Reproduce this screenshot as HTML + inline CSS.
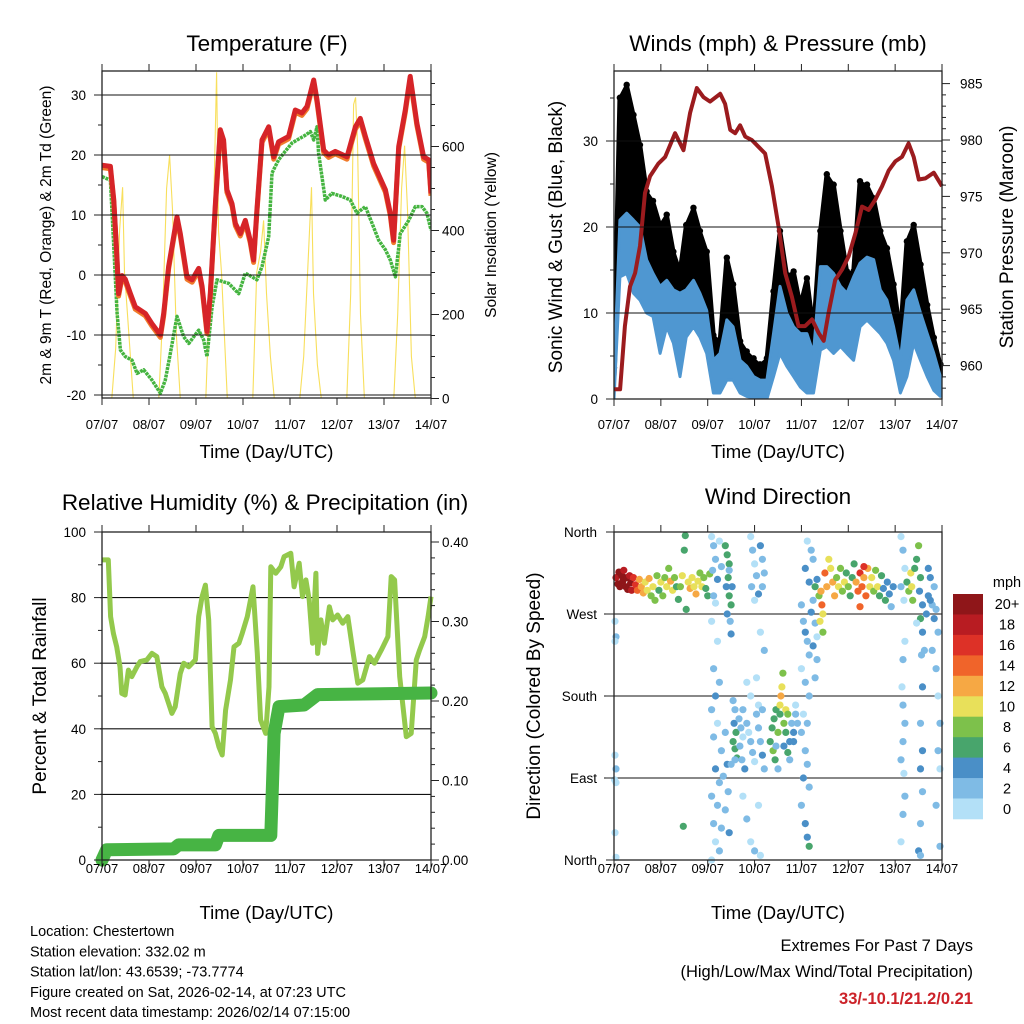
<!DOCTYPE html>
<html><head><meta charset="utf-8">
<style>
html,body{margin:0;padding:0;background:#fff;}
svg{display:block;font-family:"Liberation Sans",Arial,sans-serif;}
</style></head>
<body>
<svg id="fig" width="1024" height="1024" viewBox="0 0 1024 1024" xmlns="http://www.w3.org/2000/svg">
<g id="layer"></g>
</svg>
<script>
// ---------- Temperature panel data (hours since 07/07 00Z) ----------
const tempHours = [0,4.3,6.0,7.7,8.5,10.2,11.9,14.5,17.0,22.1,25.5,29.8,31.5,34.0,38.3,40.0,43.4,46.0,49.4,51.1,53.6,55.3,57.9,60.4,62.1,63.8,66.4,68.1,70.6,73.2,75.7,77.4,79.1,81.7,85.1,87.7,90.2,95.3,98.7,102.1,104.7,108.1,109.8,113.2,115.7,119.1,125.1,129.4,131.9,134.5,138.7,144.7,147.2,148.9,151.5,154.9,157.4,160.8,164.2,166.8,168.0];
const tempValues = [18.3,18.1,12.5,2.5,-3.1,-0.1,-0.7,-3.1,-5.3,-6.4,-8.1,-10.0,-6.4,1.4,9.7,6.9,-0.3,-0.8,1.1,-1.9,-9.4,-3.1,11.9,24.2,22.5,14.2,11.9,8.6,6.9,9.1,5.8,2.5,10.8,22.5,24.7,19.7,22.2,23.1,27.5,27.0,28.1,32.5,29.2,20.8,20.0,20.6,19.7,24.7,26.1,23.1,18.6,14.2,10.3,5.8,21.4,27.5,33.1,25.3,19.7,19.2,13.6];
const dewHours = [0,4.3,6.0,7.7,9.4,11.9,15.3,17.9,21.3,25.5,29.8,32.3,34.9,38.3,41.7,44.3,49.4,51.9,53.6,56.2,58.7,64.7,69.8,73.2,76.6,79.1,81.7,85.1,86.8,90.2,92.8,97.0,103.8,106.4,108.1,109.8,110.6,114.0,117.4,122.5,126.8,130.2,134.5,137.9,141.3,144.7,147.2,149.8,152.3,156.6,160.0,163.4,165.9,168.0];
const dewValues = [16.4,15.8,4.7,-6.4,-12.5,-13.6,-14.2,-16.4,-15.8,-17.5,-19.7,-17.5,-13.1,-6.9,-10.3,-11.4,-9.2,-10.8,-13.6,-5.3,-0.8,-1.4,-3.1,0.3,-0.3,-0.8,1.4,6.4,17.0,19.2,20.3,22.0,23.3,23.9,22.5,24.7,20.3,12.5,13.6,13.1,12.5,10.3,11.4,8.6,5.8,4.2,2.5,-0.3,6.9,9.1,11.4,11.4,10.3,7.5];
const solarHours = [5,7,9,10.5,11.5,13,16, 29,31,33,34.5,36,38,40, 53,55,57,58.5,59.5,61,64, 77,79,81,82.5,84,86,88, 101,103,105,107,108,110,112, 125,127,128.5,129.5,130.5,132,134, 149,151,153,154.5,156,158,160];
const solarValues = [0,120,400,503,300,200,0, 0,200,500,579,450,150,0, 0,250,450,777,400,300,0, 0,300,350,424,250,100,0, 0,100,300,503,250,80,0, 0,250,700,717,600,200,0, 0,200,500,602,450,100,0];
const tempTicks = [-20,-10,0,10,20,30];
const solarTicks = [0,200,400,600];
const dayLabels = ["07/07","08/07","09/07","10/07","11/07","12/07","13/07","14/07"];

// ---------- Wind panel data ----------
const windHours = [0,3,6.5,10,13.3,16.7,20,23.6,27,30.4,33.8,37,40.7,44,47.5,50.9,54.3,57.8,61,64.6,68,71.5,74.8,78.3,81.7,85,88.5,92,95.4,98.8,102.2,105.7,109,112.5,116,119.3,122.7,126,129.6,133,136.4,139.8,143.2,146.7,150,153.5,157,160.4,163.8,167.2];
const gustMax = [3.4,34.8,36.3,32.8,29.3,23.9,22.8,20.0,21.2,16.9,14.6,20.0,22.0,19.3,16.9,7.2,6.5,16.2,13.1,6.5,5.3,4.5,3.8,4.5,12.3,19.3,14.2,14.6,10.7,13.8,7.6,19.3,25.9,24.7,19.3,14.6,14.6,25.1,24.7,23.1,19.3,17.3,13.1,7.2,18.1,20.0,15.4,10.7,6.9,3.8];
const sustMax = [2.6,20.8,21.6,20.8,20.0,16.2,14.6,13.1,13.8,12.7,12.3,12.7,13.8,12.3,10.3,4.5,5.3,9.2,8.4,4.5,3.8,2.6,2.2,2.2,7.6,13.1,10.0,8.4,7.6,7.6,5.3,15.4,15.4,14.6,13.1,12.3,14.2,15.8,16.5,16.2,12.7,11.5,8.4,4.5,11.5,12.7,10.0,7.6,5.3,2.6];
const sustMin = [0,14.2,14.6,12.3,11.5,10.0,9.6,5.3,8.4,6.5,2.6,7.2,8.4,7.2,5.3,0.7,0.7,2.2,2.2,0.7,0.3,0.1,0,0,2.6,5.3,3.8,2.6,1.4,0.7,0.7,5.7,6.1,5.3,6.1,5.3,4.5,8.4,9.2,8.4,7.6,6.5,4.5,0.7,2.6,6.5,4.5,2.6,1.0,0.3];
const presHours = [0,3.1,5.6,8.2,10.8,13.3,15.9,18.5,22.7,26.2,31.3,35.6,39.0,42.4,45.8,49.2,54.4,56.9,59.5,62.1,64.6,67.2,70.6,74.0,77.4,80.9,84.3,87.7,91.1,94.5,97.9,101.4,104.8,107.4,109.9,113.3,116.8,120.2,123.6,127.0,130.4,133.8,137.3,140.7,144.1,147.5,150.9,153.5,156.1,159.5,163.8,168.0];
const presValues = [957.9,957.9,963.5,967.0,968.2,970.6,975.3,976.8,977.9,978.5,980.6,979.1,982.4,984.6,983.8,983.4,984.1,983.2,980.9,980.6,981.3,980.3,980.0,979.4,978.8,975.9,972.3,968.2,966.1,963.5,963.5,964.1,962.9,962.2,964.7,967.6,968.5,969.7,971.7,974.1,973.8,974.7,975.9,977.3,978.1,978.5,979.7,978.5,976.5,976.6,977.1,975.9];
const windTicks = [0,10,20,30];
const presTicks = [960,965,970,975,980,985];

// ---------- RH / precip data ----------
const rhHours = [0,3.2,4.4,5.8,7.5,9.2,10.1,11.8,13.5,15.2,17.8,19.5,22.9,25.5,28.0,30.6,32.3,35.7,37.4,40.0,41.7,44.3,47.7,49.4,51.1,52.8,54.5,56.2,57.9,59.7,61.4,63.1,65.6,67.4,69.9,71.6,74.2,77.1,79.3,81.0,83.6,85.3,86.2,88.7,91.3,93.0,96.4,98.1,100.7,102.4,104.1,105.8,107.5,109.2,110.1,111.8,113.5,116.1,117.8,120.3,122.9,125.5,128.0,130.6,133.2,136.6,139.1,142.6,146.0,147.7,149.4,152.0,155.4,157.9,160.5,162.2,164.8,166.5,168.0];
const rhValues = [91.5,91.5,74.2,69.1,65.0,58.9,50.8,50.3,57.9,55.9,58.9,60.5,61.0,63.0,62.0,52.8,50.8,44.7,46.7,56.9,60.0,58.9,61.0,74.2,80.3,83.8,73.2,40.6,38.6,34.5,32.0,45.7,54.9,65.0,66.1,69.1,74.2,83.3,63.0,42.7,38.6,52.8,89.4,87.4,89.4,92.5,93.5,83.3,90.5,80.3,85.4,79.3,66.1,87.4,63.0,73.2,66.1,77.2,73.2,74.7,72.2,74.2,64.0,53.9,54.9,62.0,60.0,64.0,68.1,86.4,85.4,55.9,37.6,38.6,61.0,64.0,68.1,74.2,80.3];
const rainHours = [0,2.4,36.6,39.1,57.9,59.7,86.2,87.0,87.9,90.4,103.2,110.1,168.0];
const rainValues = [0,0.013,0.014,0.019,0.019,0.031,0.031,0.092,0.159,0.193,0.195,0.208,0.210];
const rhTicks = [0,20,40,60,80,100];
const rainTicks = [0.00,0.10,0.20,0.30,0.40];

// ---------- Wind direction data ----------
const dirHours = [1,2,2.5,3,4,4.5,5,6,6.5,7,8,8.5,9,10,11,12,13,14,15,16,17,18,19,20,21,22,23,24,25,26,27,28,29,30,31,32,33,34,35,36,36.5,37,38,39,40,41,42,43,44,45,46,47,48,49,35.5,
0.5,1,0.5,0.5,1,1,0.5,1,0.3,
50,51,52,50.5,53,51,52,54,55,50,53,51,54,52,50,53,51,55,52,54,50,53,51,55,52,54,50,
57,58,59,58.5,57.5,59,60,58,59.5,60,59,60.5,57,58,56,58.5,57,59,
61,62,61.5,62.5,61,62,63,64,65,66,64.5,65.5,67,66,68,69,70,71,72,73,74,75,76,77,74,70,68,76,62,60,66,68,70,72,75,74,
70,71,72,73,70.5,74,75,76,77,72,76,75,77,73,
80,81,82,81.5,83,82.5,84,85,85.5,86,86.5,85,87,88,89,88,87,90,89,91,92,93,94,90,84,83,93,92,
96,97,98,99,100,96,98,100,97,99,96,98,99,97,100,96,98,99,100,101,102,103,104,102,104,103,
103,104,105,106,106.5,107,105.5,107,108,109,110,111,112,113,114,115,116,117,118,119,120,121,122,123,124,125,126,127,128,129,130,131,132,133,134,135,136,137,138,139,140,141,142,143,126,128,98,100,102,99,101,
147,148,149,147,148.5,149,148,147.5,148,149,148,147,148.5,149,148,147,150,151,152,153,152.5,154,155,156,157,156.5,158,157,158,157.5,158,157,158,157,158,157,156,157,155,159,160,161,162,163,164,165,164,166,163,165,166,167,166,167,165,167,161,162];
const dirValues = [310,303,316,300,312,306,318,300,310,297,312,304,296,310,302,296,308,300,293,305,296,309,290,300,285,312,296,305,290,310,300,320,306,296,310,300,286,300,312,340,356,275,305,298,310,300,292,306,315,300,310,298,290,314,37,
262,245,240,115,100,85,30,3,88,
355,345,330,318,308,290,282,350,322,262,240,210,195,180,165,150,135,120,100,85,70,60,40,35,20,10,0,
345,335,325,310,300,290,280,270,262,248,318,300,140,105,92,75,55,30,
175,165,150,140,130,122,112,155,145,135,125,110,100,165,150,140,130,118,108,160,145,130,115,100,170,180,195,165,110,105,70,45,20,10,5,60,
355,340,325,312,300,292,345,330,315,285,300,250,230,200,
130,145,155,120,165,110,140,170,180,190,205,160,150,165,160,140,125,130,118,150,140,160,150,110,100,125,170,130,
280,262,250,240,225,210,195,180,160,150,140,120,105,90,80,60,40,25,15,272,285,260,245,235,220,200,
300,308,290,295,280,270,262,250,315,300,330,320,305,290,310,300,320,295,305,315,300,290,310,325,305,295,315,300,310,290,320,300,310,295,318,300,290,312,298,285,305,292,278,300,278,322,320,305,330,350,340,
355,340,320,300,285,240,220,190,170,150,130,110,95,70,50,20,305,295,315,285,300,320,330,345,310,295,280,265,250,225,190,150,120,100,75,40,10,5,260,230,270,290,310,280,265,275,300,250,230,210,180,150,120,100,60,15,320,285];
const dirSpeeds = [19,21,20,22,21,20,19,21,22,20,19,21,18,17,16,14,13,12,13,11,10,12,8,10,9,8,7,10,9,8,11,9,12,10,8,7,6,9,10,7,7,6,11,12,10,11,13,10,9,10,8,6,6,8,7,
1,2,1,1,2,1,1,1,0,
1,2,3,2,4,2,1,1,3,0,1,3,2,4,2,1,2,3,4,3,2,3,2,3,1,2,1,
6,7,6,7,5,6,7,4,3,4,3,4,3,4,3,2,3,4,
3,2,4,7,6,7,6,2,3,1,2,3,4,2,3,1,2,3,1,2,3,2,4,3,1,1,0,2,2,3,1,2,1,2,1,1,
1,2,1,3,2,4,4,3,2,1,2,1,2,1,
7,6,7,8,6,7,8,11,13,10,8,7,9,10,9,6,4,5,6,3,4,3,2,3,3,2,1,5,
3,2,4,2,3,1,2,3,1,2,3,2,3,4,2,3,4,5,6,4,2,3,1,4,3,2,
6,5,8,12,14,11,10,8,15,12,10,11,13,12,9,10,8,9,10,7,8,6,7,7,12,14,16,15,13,14,12,11,10,9,8,10,7,6,5,6,4,5,3,4,14,17,4,5,3,1,2,
1,2,1,3,1,1,2,1,3,2,3,2,1,2,3,1,7,9,11,8,10,7,6,8,6,5,4,7,4,3,4,3,4,4,3,2,4,3,1,2,4,5,4,3,4,3,2,2,2,2,1,2,3,1,2,2,4,5];
const dirTickLabels = ["North","East","South","West","North"];
const speedBins = ["0","2","4","6","8","10","12","14","16","18","20+"];
const speedColors = ["#b3e0f7","#7fbbe5","#4a8fc7","#48a56c","#7dc14b","#e8e05a","#f6a844","#f0642a","#dd3127","#b81c22","#8f1619"];

// ---------- drawing helpers ----------
const NS = "http://www.w3.org/2000/svg";
const root = document.getElementById("layer");
function mk(tag, attrs, parent) {
  const el = document.createElementNS(NS, tag);
  for (const k in attrs) el.setAttribute(k, attrs[k]);
  (parent || root).appendChild(el);
  return el;
}
function txt(s, x, y, size, anchor, parent, extra) {
  const t = mk("text", Object.assign({x: x, y: y, "font-size": size, "text-anchor": anchor || "middle", fill: "#000"}, extra || {}), parent);
  t.textContent = s;
  return t;
}
function pathOf(xs, ys, fx, fy) {
  let d = "";
  for (let i = 0; i < xs.length; i++) d += (i ? "L" : "M") + fx(xs[i]).toFixed(1) + "," + fy(ys[i]).toFixed(1);
  return d;
}
function panelFrame(g, x0, y0, x1, y1) {
  const f = mk("rect", {x: x0, y: y0, width: x1 - x0, height: y1 - y0, fill: "none", stroke: "#222", "stroke-width": 1.3}, g);
  
  
}
function dayAxis(g, x0, x1, y0, y1, labelY, titleY) {
  const gx = mk("g", {}, g);
  
  
  for (let i = 0; i < dayLabels.length; i++) {
    const x = x0 + i * (x1 - x0) / 7;
    mk("line", {x1: x, x2: x, y1: y0 - 7, y2: y0, stroke: "#222", "stroke-width": 1}, gx);
    mk("line", {x1: x, x2: x, y1: y1, y2: y1 + 7, stroke: "#222", "stroke-width": 1}, gx);
    const t = txt(dayLabels[i], x, labelY, 13, "middle", gx);
    
    
  }
  const tt = txt("Time (Day/UTC)", (x0 + x1) / 2, titleY, 18.5, "middle", gx);
  
  
}
function hGrid(g, x0, x1, y) {
  mk("line", {x1: x0 - 2, x2: x1, y1: y, y2: y, stroke: "#111", "stroke-width": 1.1}, g);
}

// ================= Panel 1: Temperature =================
(function(){
  const X0 = 102, X1 = 431, Y0 = 71, Y1 = 398;
  const fx = h => X0 + h * (X1 - X0) / 168;
  const fy = t => 275 - 6 * t;
  const fs = w => 398.5 - 0.42 * w;
  const g = mk("g", {});
  
  
  const clip = mk("clipPath", {id: "c1"}, g);
  mk("rect", {x: X0, y: Y0, width: X1 - X0, height: Y1 - Y0}, clip);
  const data = mk("g", {"clip-path": "url(#c1)"}, g);
  const sol = mk("path", {d: pathOf(solarHours, solarValues, fx, fs), fill: "none", stroke: "#f7dc4a", "stroke-width": 1.1, opacity: 0.9}, data);
  
  
  tempTicks.forEach(t => hGrid(g, X0, X1, fy(t)));
  const dew = mk("path", {d: pathOf(dewHours, dewValues, fx, fy), fill: "none", stroke: "#45b440", "stroke-width": 3.5, "stroke-dasharray": "3 0.8", "stroke-linejoin": "round"}, data);
  
  
  const o = mk("path", {d: pathOf(tempHours, tempValues.map(v => v - 0.4), fx, fy), fill: "none", stroke: "#f07a2a", "stroke-width": 5, "stroke-linejoin": "round"}, data);
  
  
  const r = mk("path", {d: pathOf(tempHours, tempValues, fx, fy), fill: "none", stroke: "#d62428", "stroke-width": 5, "stroke-linejoin": "round"}, data);
  
  
  panelFrame(g, X0, Y0, X1, Y1);
  for (let t = -20; t <= 30; t += 5) {
    const major = t % 10 === 0;
    mk("line", {x1: X0 - (major ? 8 : 4), x2: X0, y1: fy(t), y2: fy(t), stroke: "#222"}, g);
  }
  tempTicks.forEach(t => {
    const l = txt(String(t), 86, fy(t) + 5, 13.5, "end", g);
    
    
  });
  for (let w = 0; w <= 750; w += 50) {
    const major = w % 200 === 0;
    mk("line", {x1: X1, x2: X1 + (major ? 8 : 4), y1: fs(w), y2: fs(w), stroke: "#222"}, g);
  }
  solarTicks.forEach(w => {
    const l = txt(String(w), 442, fs(w) + 5, 13.5, "start", g);
    
    
  });
  dayAxis(g, X0, X1, Y0, Y1, 429, 458);
  const t1 = txt("Temperature (F)", 267, 51, 22.5, "middle", g);
  
  
  const yl = txt("2m & 9m T (Red, Orange) & 2m Td (Green)", 0, 0, 15.5, "middle", g, {transform: "translate(51,235) rotate(-90)"});
  
  
  const yr = txt("Solar Insolation (Yellow)", 0, 0, 15.5, "middle", g, {transform: "translate(496,235) rotate(-90)"});
  
  
})();

// ================= Panel 2: Winds =================
(function(){
  const X0 = 614, X1 = 942, Y0 = 71, Y1 = 399;
  const fx = h => X0 + h * (X1 - X0) / 168;
  const fy = m => 399 - 8.6 * m;
  const fp = p => 140 + (980 - p) * 11.28;
  const g = mk("g", {});
  
  
  const clip = mk("clipPath", {id: "c2"}, g);
  mk("rect", {x: X0, y: Y0 - 5, width: X1 - X0 + 4, height: Y1 - Y0 + 5}, clip);
  const data = mk("g", {"clip-path": "url(#c2)"}, g);
  windTicks.slice(1).forEach(m => hGrid(g, X0, X1, fy(m)));
  // gust envelope (black), from gust max down to sustained max
  let d = "";
  for (let i = 0; i < windHours.length; i++) d += (i ? "L" : "M") + fx(windHours[i]).toFixed(1) + "," + fy(gustMax[i]).toFixed(1);
  for (let i = windHours.length - 1; i >= 0; i--) d += "L" + fx(windHours[i]).toFixed(1) + "," + fy(sustMax[i]).toFixed(1);
  const gp = mk("path", {d: d + "Z", fill: "#000", stroke: "#000", "stroke-width": 5, "stroke-linejoin": "round"}, data);
  
  
  for (let i = 0; i < windHours.length; i++) {
    const c = mk("circle", {cx: fx(windHours[i]), cy: fy(gustMax[i]) - 2, r: 3.2, fill: "#000"}, data);
    
    
  }
  // sustained band
  d = "";
  for (let i = 0; i < windHours.length; i++) d += (i ? "L" : "M") + fx(windHours[i]).toFixed(1) + "," + fy(sustMax[i]).toFixed(1);
  for (let i = windHours.length - 1; i >= 0; i--) d += "L" + fx(windHours[i]).toFixed(1) + "," + fy(sustMin[i]).toFixed(1);
  const sp = mk("path", {d: d + "Z", fill: "#4f97d1", stroke: "#4f97d1", "stroke-width": 3, "stroke-linejoin": "round"}, data);
  
  
  const pl = mk("path", {d: pathOf(presHours, presValues, fx, fp), fill: "none", stroke: "#9b1b1e", "stroke-width": 4, "stroke-linejoin": "round"}, data);
  
  
  panelFrame(g, X0, Y0, X1, Y1);
  for (let m = 0; m <= 35; m += 5) {
    const major = m % 10 === 0;
    mk("line", {x1: X0 - (major ? 8 : 4), x2: X0, y1: fy(m), y2: fy(m), stroke: "#222"}, g);
  }
  windTicks.forEach(m => {
    const l = txt(String(m), 598, fy(m) + 5, 13.5, "end", g);
    
    
  });
  for (let p = 958; p <= 985; p++) {
    const major = p % 5 === 0;
    mk("line", {x1: X1, x2: X1 + (major ? 8 : 4), y1: fp(p), y2: fp(p), stroke: "#222"}, g);
  }
  presTicks.forEach(p => {
    const l = txt(String(p), 960, fp(p) + 5, 13.5, "start", g);
    
    
  });
  dayAxis(g, X0, X1, Y0, Y1, 429, 458);
  const t = txt("Winds (mph) & Pressure (mb)", 778, 51, 22.5, "middle", g);
  
  
  const yl = txt("Sonic Wind & Gust (Blue, Black)", 0, 0, 19, "middle", g, {transform: "translate(562,237) rotate(-90)"});
  
  
  const yr = txt("Station Pressure (Maroon)", 0, 0, 19, "middle", g, {transform: "translate(1013,237) rotate(-90)"});
  
  
})();

// ================= Panel 3: RH & precip =================
(function(){
  const X0 = 102, X1 = 431, Y0 = 532, Y1 = 860;
  const fx = h => X0 + h * (X1 - X0) / 168;
  const fy = r => 860 - 3.28 * r;
  const fr = p => 860 - 795 * p;
  const g = mk("g", {});
  
  
  [20,40,60,80].forEach(r => hGrid(g, X0, X1, fy(r)));
  const rh = mk("path", {d: pathOf(rhHours, rhValues, fx, fy), fill: "none", stroke: "#93c94c", "stroke-width": 5, "stroke-linejoin": "round"}, g);
  
  
  const pr = mk("path", {d: pathOf(rainHours, rainValues, fx, fr), fill: "none", stroke: "#47b444", "stroke-width": 13, "stroke-linejoin": "round", "stroke-linecap": "round"}, g);
  
  
  panelFrame(g, X0, Y0, X1, Y1);
  for (let r = 0; r <= 100; r += 10) {
    const major = r % 20 === 0;
    mk("line", {x1: X0 - (major ? 8 : 4), x2: X0, y1: fy(r), y2: fy(r), stroke: "#222"}, g);
  }
  rhTicks.forEach(r => {
    const l = txt(String(r), 86, fy(r) + 5, 13.5, "end", g);
    
    
  });
  for (let p = 0; p <= 0.41; p += 0.02) {
    const major = Math.abs(p * 10 - Math.round(p * 10)) < 0.001;
    mk("line", {x1: X1, x2: X1 + (major ? 8 : 4), y1: fr(p), y2: fr(p), stroke: "#222"}, g);
  }
  rainTicks.forEach(p => {
    const l = txt(p.toFixed(2), 442, fr(p) + 5, 13.5, "start", g);
    
    
  });
  dayAxis(g, X0, X1, Y0, Y1, 873, 919);
  const t = txt("Relative Humidity (%) & Precipitation (in)", 265, 510, 22.5, "middle", g);
  
  
  const yl = txt("Percent & Total Rainfall", 0, 0, 19, "middle", g, {transform: "translate(46,696) rotate(-90)"});
  
  
})();

// ================= Panel 4: Wind direction =================
(function(){
  const X0 = 614, X1 = 942, Y0 = 532, Y1 = 860;
  const fx = h => X0 + h * (X1 - X0) / 168;
  const fy = d => 860 - d * 328 / 360;
  const g = mk("g", {});
  
  
  [90,180,270].forEach(d => hGrid(g, X0 - 8, X1, fy(d)));
  const pts = mk("g", {}, g);
  
  
  for (let i = 0; i < dirHours.length; i++) {
    const bin = Math.min(10, Math.max(0, Math.floor(dirSpeeds[i] / 2)));
    const c = mk("circle", {cx: fx(dirHours[i]).toFixed(1), cy: fy(dirValues[i]).toFixed(1), r: 3.6, fill: speedColors[bin]}, pts);
    
    
  }
  panelFrame(g, X0, Y0, X1, Y1);
  dirTickLabels.forEach((s, i) => {
    const d = i * 90;
    mk("line", {x1: X0 - 8, x2: X0, y1: fy(d), y2: fy(d), stroke: "#222"}, g);
    const l = txt(s, 597, fy(d) + 5, 13.5, "end", g);
    
    
  });
  dayAxis(g, X0, X1, Y0, Y1, 873, 919);
  const t = txt("Wind Direction", 778, 504, 22.5, "middle", g);
  
  
  const yl = txt("Direction (Colored By Speed)", 0, 0, 19, "middle", g, {transform: "translate(540,696) rotate(-90)"});
  
  
  const cb = mk("g", {}, g);
  
  
  const bh = 225 / speedBins.length;
  for (let k = 0; k < speedBins.length; k++) {
    const idx = speedBins.length - 1 - k;
    const y = 594 + k * bh;
    const r = mk("rect", {x: 953, y: y.toFixed(1), width: 30, height: (bh + 0.3).toFixed(1), fill: speedColors[idx]}, cb);
    
    
    const l = txt(speedBins[idx], 1007, y + bh / 2 + 5, 14.5, "middle", cb);
    
    
  }
  const u = txt("mph", 1007, 587, 14.5, "middle", cb);
  
  
})();

// ================= Footer text =================
(function(){
  const g = mk("g", {});
  
  
  const lines = ["Location: Chestertown","Station elevation: 332.02 m","Station lat/lon: 43.6539; -73.7774","Figure created on Sat, 2026-02-14, at 07:23 UTC","Most recent data timestamp: 2026/02/14 07:15:00"];
  lines.forEach((s, i) => {
    const t = txt(s, 30, 936 + i * 20.3, 14.5, "start", g);
    
    
  });
  const e = mk("g", {});
  
  
  const a = txt("Extremes For Past 7 Days", 973, 951, 16.5, "end", e);
  
  
  const b = txt("(High/Low/Max Wind/Total Precipitation)", 973, 977, 16.5, "end", e);
  
  
  const c = txt("33/-10.1/21.2/0.21", 973, 1004, 16.5, "end", e, {fill: "#cc2229", "font-weight": "bold"});
  
  
})();
</script>
</body></html>
